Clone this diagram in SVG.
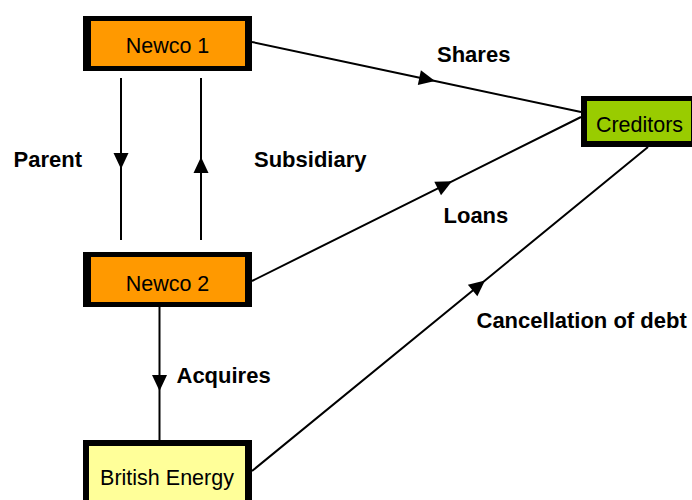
<svg xmlns="http://www.w3.org/2000/svg" width="692" height="500" viewBox="0 0 692 500">
<style>
.frame{fill:#000}
.lbl{font-family:"Liberation Sans",Arial,sans-serif;font-size:21.5px;fill:#000}
.node{text-anchor:middle}
.edge{font-weight:bold;font-size:22px}
.con{fill:none;stroke:#000;stroke-width:2;marker-mid:url(#ah)}
</style>
<defs>
<marker id="ah" markerUnits="userSpaceOnUse" markerWidth="16" markerHeight="15" refX="16" refY="7.5" orient="auto" overflow="visible">
<path d="M0,0 L16,7.5 L0,15 z" fill="#000"/>
</marker>
</defs>
<rect width="692" height="500" fill="#fff"/>
<g id="connectors">
<path class="con" d="M252,42 L435,81 L581,112"/>
<path class="con" d="M252,281 L452,181.3 L581,117"/>
<path class="con" d="M252,471 L485,280.4 L648,147"/>
<path class="con" d="M121,78 L121,169 L121,240"/>
<path class="con" d="M201,240 L201,157 L201,78"/>
<path class="con" d="M159.5,307 L159.5,391 L159.5,440"/>
</g>
<g id="newco1">
<rect class="frame" x="83" y="16" width="169" height="55"/>
<rect x="91" y="21" width="154" height="45" fill="#FF9900"/>
<text class="lbl node" x="167.5" y="53">Newco 1</text>
</g>
<g id="newco2">
<rect class="frame" x="83" y="252" width="169" height="55"/>
<rect x="91" y="257" width="154" height="45" fill="#FF9900"/>
<text class="lbl node" x="167.5" y="291">Newco 2</text>
</g>
<g id="creditors">
<rect class="frame" x="581" y="96" width="120" height="51"/>
<rect x="587" y="101" width="104" height="40" fill="#99CC00"/>
<text class="lbl node" x="639.5" y="132">Creditors</text>
</g>
<g id="britishenergy">
<rect class="frame" x="83" y="440" width="169" height="70"/>
<rect x="89" y="446" width="156" height="60" fill="#FFFF99"/>
<text class="lbl node" x="167" y="484.5">British Energy</text>
</g>
<g id="labels">
<text class="lbl edge" x="437" y="62">Shares</text>
<text class="lbl edge" x="13.5" y="166.5">Parent</text>
<text class="lbl edge" x="254" y="166.5">Subsidiary</text>
<text class="lbl edge" x="443.5" y="223">Loans</text>
<text class="lbl edge" x="176.5" y="383">Acquires</text>
<text class="lbl edge" x="476.5" y="328">Cancellation of debt</text>
</g>
</svg>
